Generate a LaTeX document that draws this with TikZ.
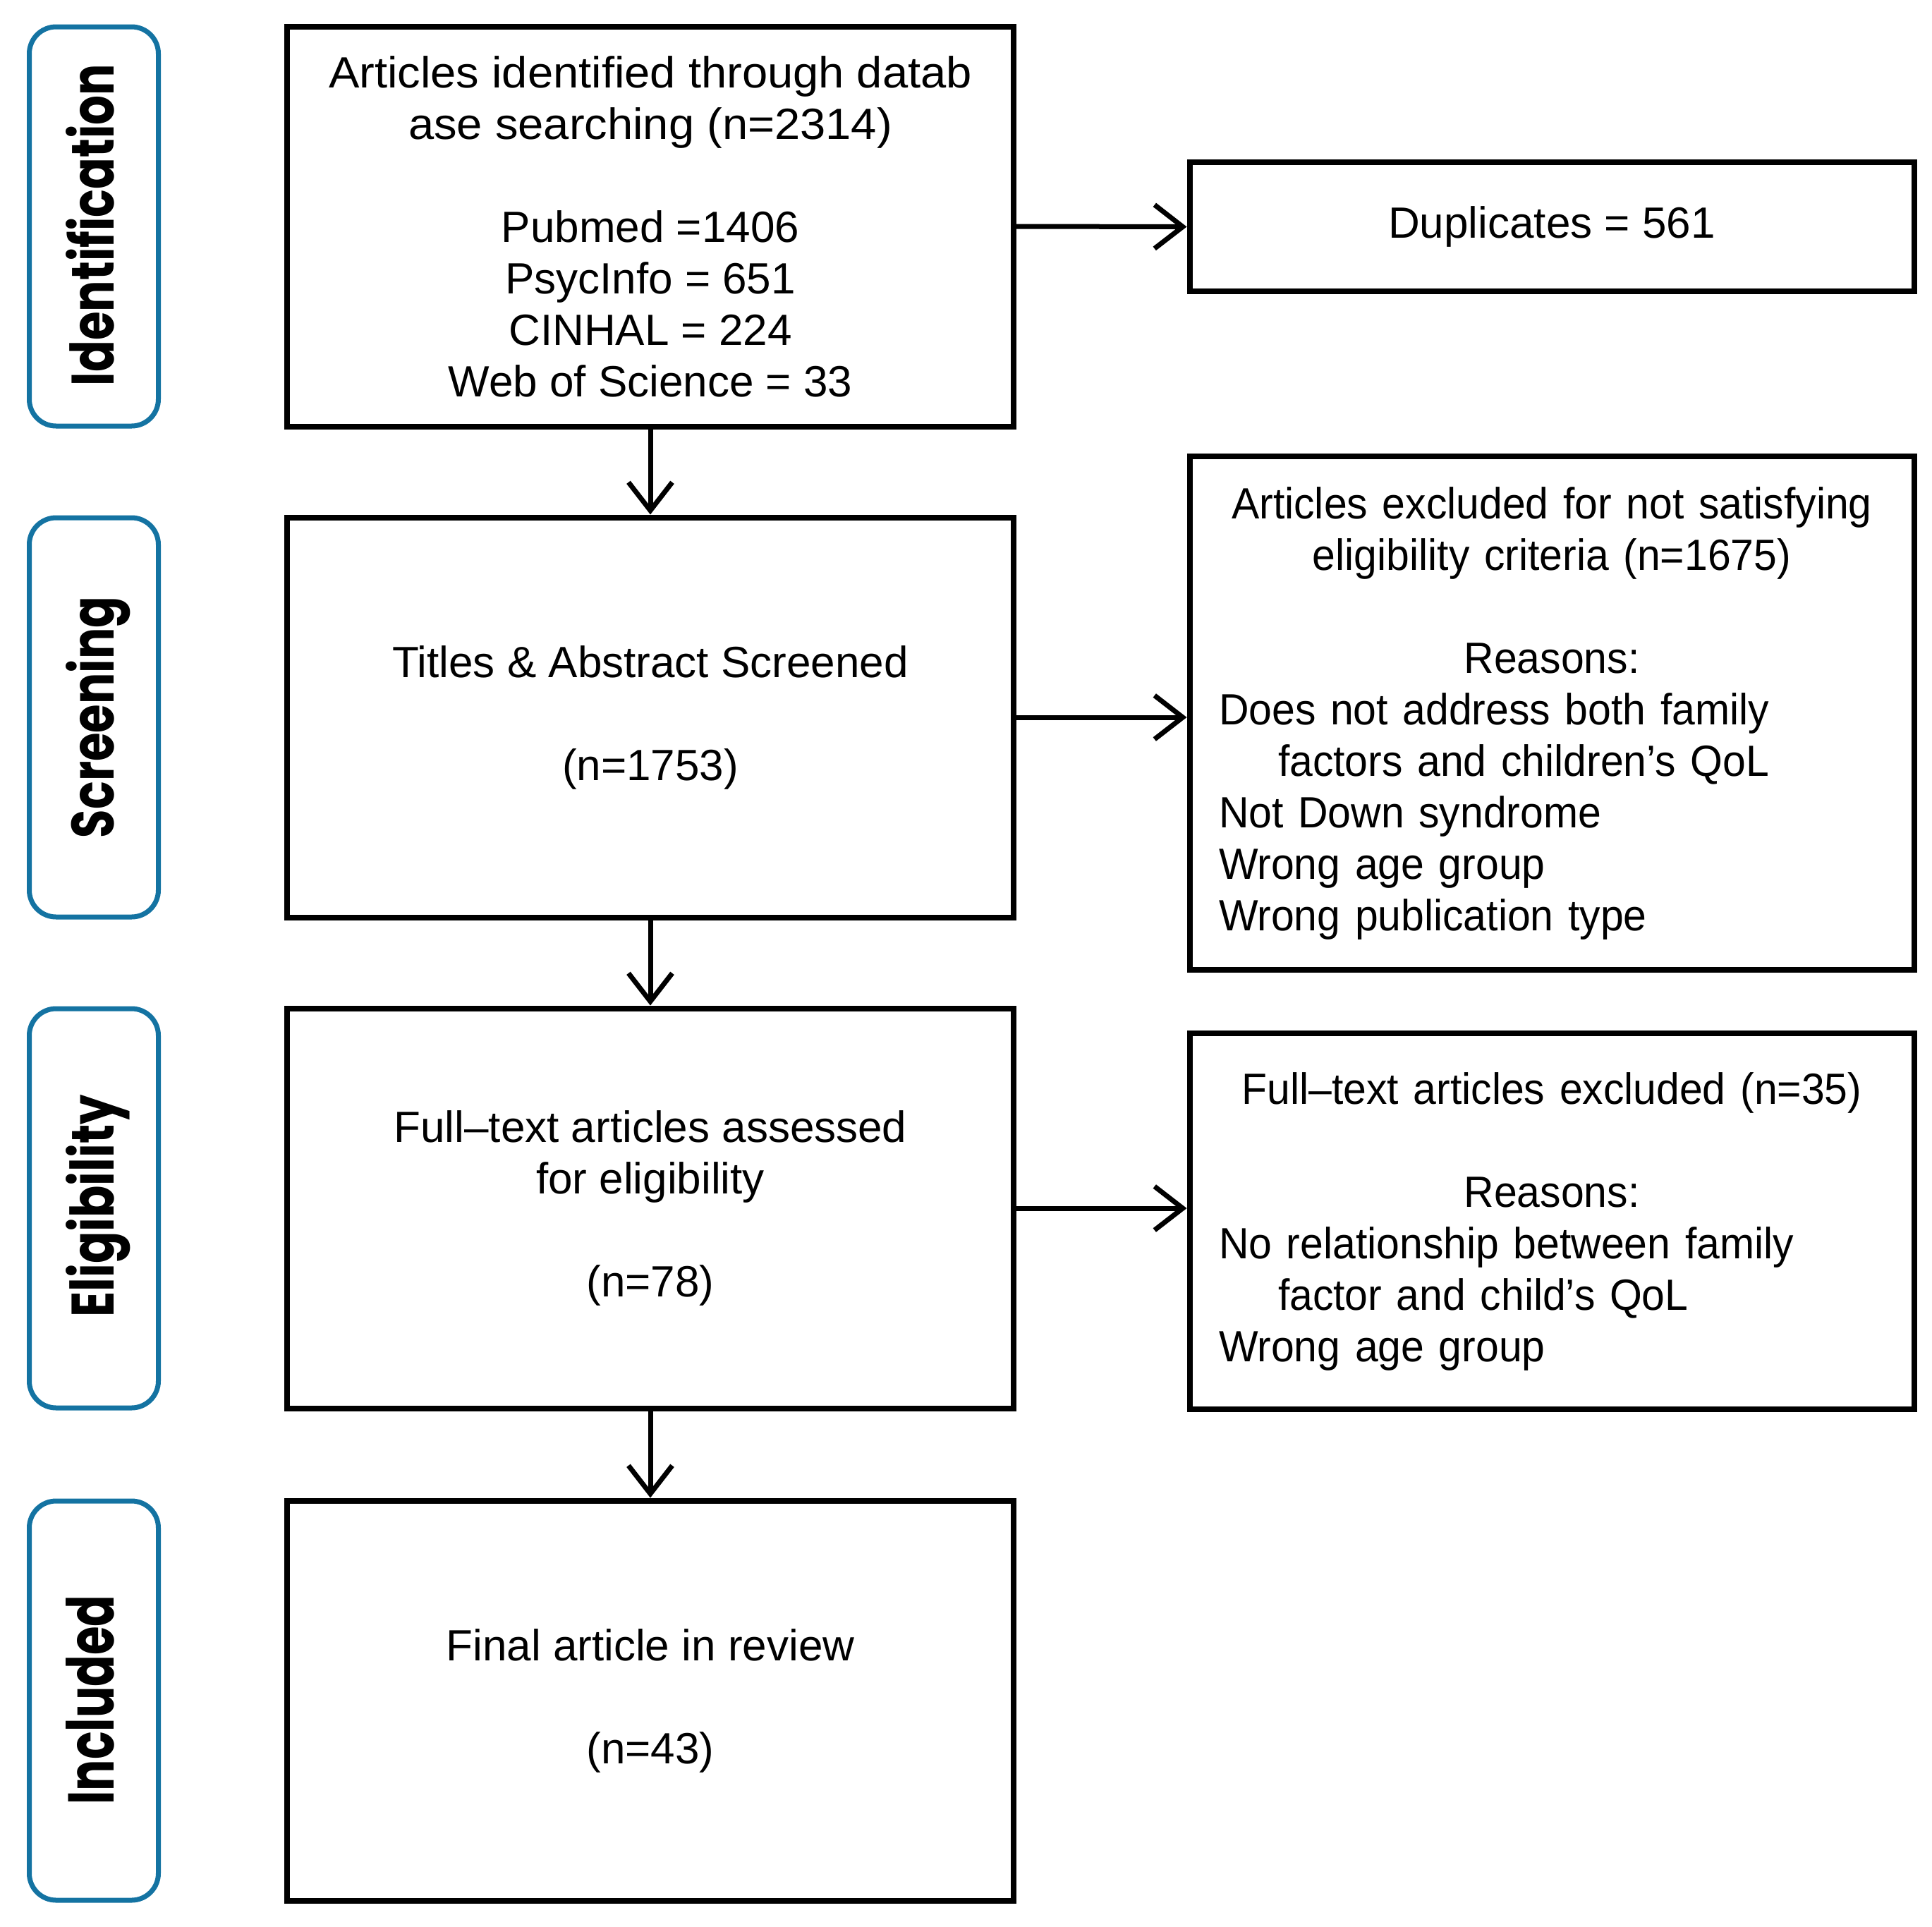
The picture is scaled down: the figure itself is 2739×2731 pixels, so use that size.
\documentclass[tikz,border=0pt]{standalone}
\usepackage{fontspec}
\usepackage{graphicx}
\setmainfont{Liberation Sans}
\newfontfamily\narrowfont{Liberation Sans}[FakeStretch=0.95]
\newfontfamily\widefont{Liberation Sans}[FakeStretch=1.05]
\newfontfamily\labfont{Poppins}
\usetikzlibrary{arrows.meta}
\definecolor{labblue}{RGB}{20,115,162}
\newcommand\mainfs{\fontsize{62pt}{73pt}\selectfont}
\newcommand\sidefs{\narrowfont\fontsize{62pt}{73pt}\selectfont}
\newcommand\labtext[3]{\resizebox{#1}{#2}{\labfont\bfseries #3}}
\tikzset{
  mainbox/.style={draw, line width=8pt, minimum width=1030pt, minimum height=567pt, inner sep=0pt, align=center, font=\mainfs},
  sidebox/.style={draw, line width=8pt, inner sep=0pt, font=\sidefs},
  labbox/.style={draw=labblue, line width=7pt, rounded corners=38pt, minimum width=183pt, minimum height=566pt, inner sep=0pt},
  labtxt/.style={rotate=90, anchor=base, inner sep=0pt},
  flow/.style={line width=7pt, -{Straight Barb[length=40pt,width=62pt]}},
}
\begin{document}
\begin{tikzpicture}[x=1pt,y=-1pt]
\useasboundingbox (0,0) rectangle (2739,2731);
% stage labels
\node[labbox] (l1) at (133,321) {};
\node[labbox] (l2) at (133,1017) {};
\node[labbox] (l3) at (133,1713) {};
\node[labbox] (l4) at (133,2411) {};
\node[labtxt] (t1) at (161,319) {\labtext{456pt}{68pt}{Identification}};
\node[labtxt] (t2) at (161,1017) {\labtext{342pt}{68pt}{Screening}};
\node[labtxt] (t3) at (161,1710) {\labtext{315pt}{68pt}{Eligibility}};
\node[labtxt] (t4) at (161,2410) {\labtext{297pt}{68pt}{Included}};
% main column
\node[mainbox] (b1) at (922,321) {{\widefont Articles identified through datab}\\{\widefont ase searching (n=2314)}\\[73pt]Pubmed =1406\\PsycInfo = 651\\CINHAL = 224\\Web of Science = 33};
\node[mainbox] (b2) at (922,1017) {Titles \& Abstract Screened\\[73pt](n=1753)};
\node[mainbox] (b3) at (922,1713) {Full–text articles assessed\\for eligibility\\[73pt](n=78)};
\node[mainbox] (b4) at (922,2411) {Final article in review\\[73pt](n=43)};
% side column
\node[sidebox, font=\mainfs, minimum width=1027pt, minimum height=183pt] (dup) at (2200,321.5) {Duplicates = 561};
\node[sidebox, minimum width=1027pt, minimum height=728pt, text width=944pt, align=left] (ex1) at (2200,1011) {%
\makebox[\linewidth]{Articles excluded for not satisfying}\\
\makebox[\linewidth]{eligibility criteria (n=1675)}\\[73pt]
\makebox[\linewidth]{Reasons:}\\
Does not address both family\\
\hspace*{84pt}factors and children’s QoL\\
Not Down syndrome\\
Wrong age group\\
Wrong publication type};
\node[sidebox, minimum width=1027pt, minimum height=533pt, text width=944pt, align=left] (ex2) at (2200,1731.5) {%
\makebox[\linewidth]{Full–text articles excluded (n=35)}\\[73pt]
\makebox[\linewidth]{Reasons:}\\
No relationship between family\\
\hspace*{84pt}factor and child’s QoL\\
Wrong age group};
% connectors
\draw[flow] (b1.south) -- (b2.north);
\draw[flow] (b2.south) -- (b3.north);
\draw[flow] (b3.south) -- (b4.north);
\draw[flow] (b1.east) -- (dup.west);
\draw[flow] (b2.east) -- (b2.east -| ex1.west);
\draw[flow] (b3.east) -- (b3.east -| ex2.west);
\end{tikzpicture}
\end{document}
